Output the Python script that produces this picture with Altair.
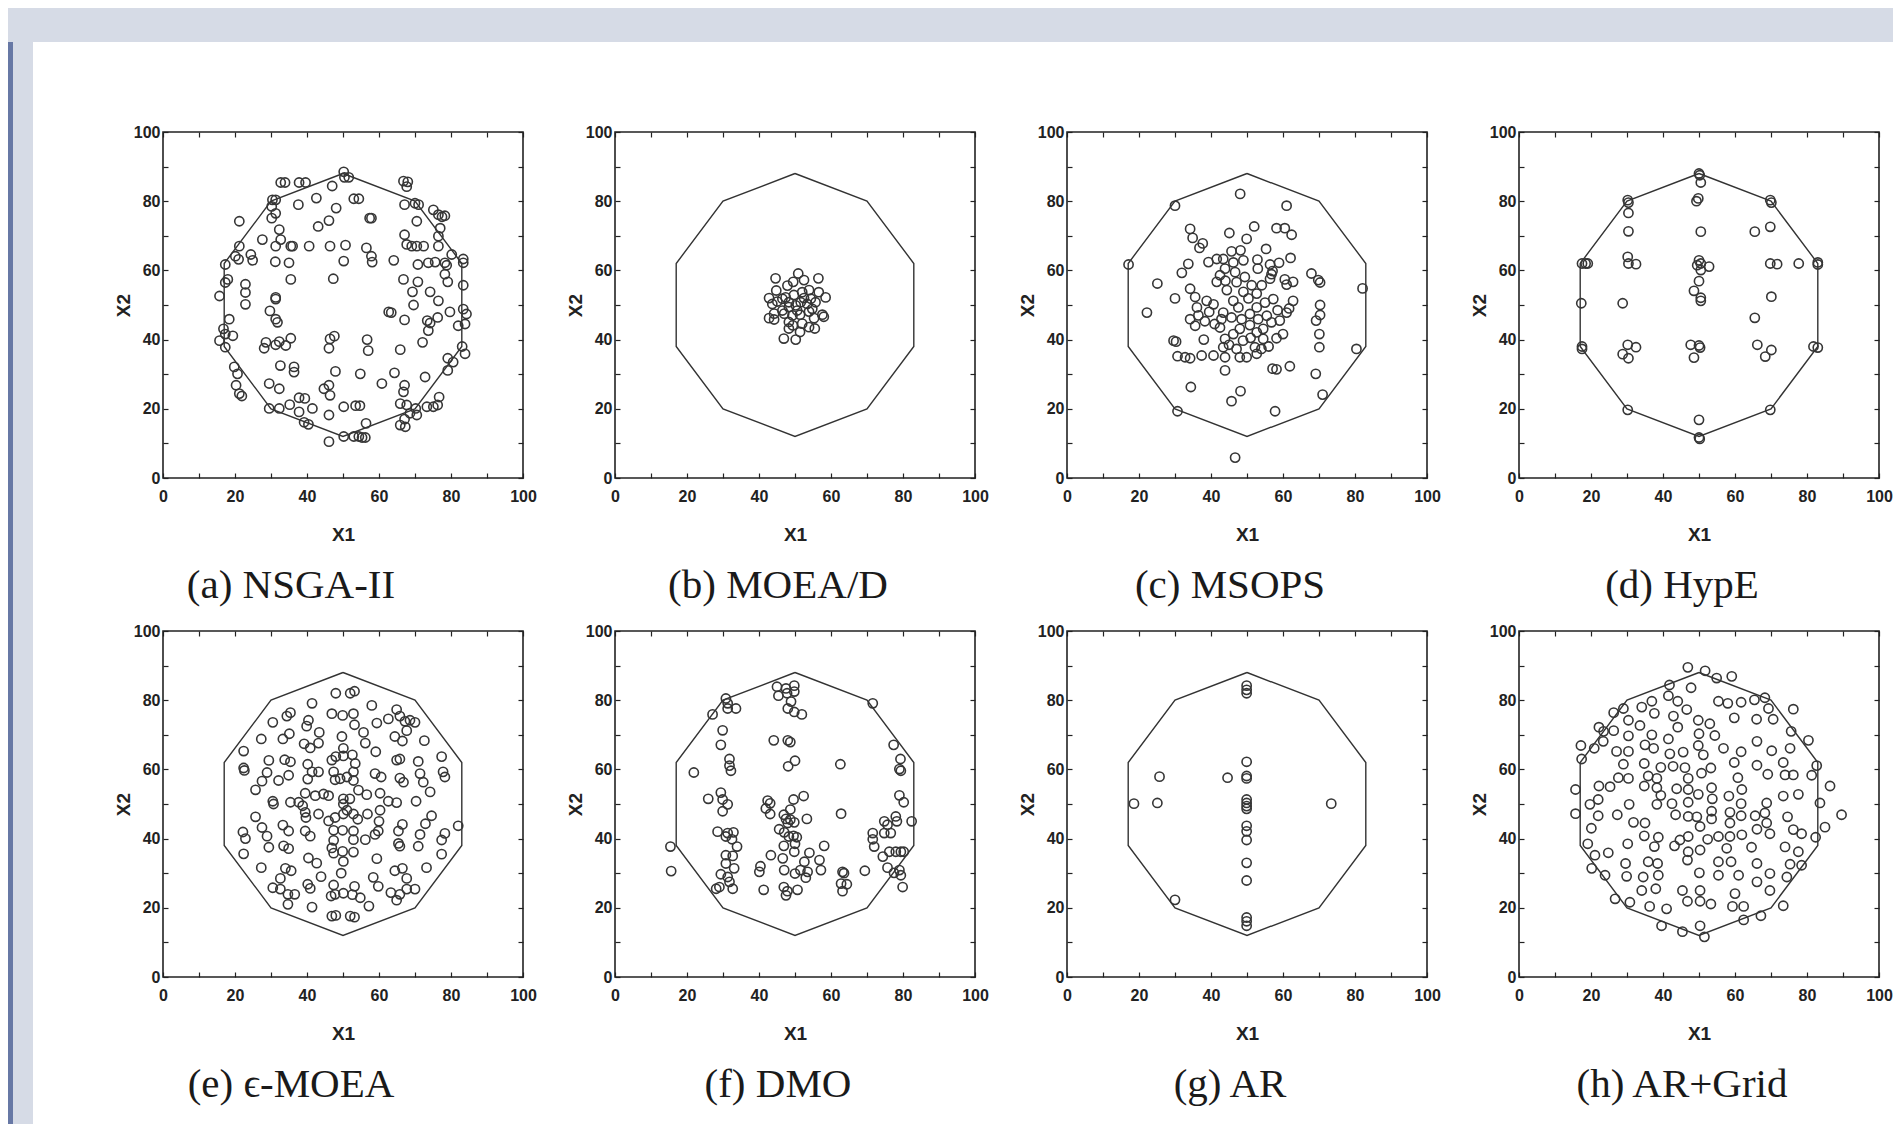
import altair as alt
import pandas as pd

# ---------------- data ----------------
POLY_X = [50, 70, 83, 83, 70, 50, 30, 17, 17, 30, 50]
POLY_Y = [88, 80, 62, 38, 20, 12, 20, 38, 62, 80, 88]

NSGA2 = [(50.2,88.5),(50.4,86.9),(51.6,86.9),(32.7,85.4),(33.9,85.4),(37.8,85.4),(39.6,85.4),(47.0,84.4),
(30.4,80.4),(31.3,80.4),(30.2,78.5),(37.6,79.0),(42.6,80.9),(53.0,80.7),(54.4,80.7),(48.1,78.0),
(46.1,74.4),(43.1,72.7),(57.4,75.1),(57.9,75.1),(66.8,85.8),(68.0,85.6),(67.7,84.2),(67.1,79.0),
(70.0,79.4),(71.0,79.0),(75.1,77.5),(76.5,76.1),(78.3,75.8),(77.5,75.5),(70.5,74.2),(77.0,72.2),
(21.2,74.2),(32.3,71.8),(32.7,68.9),(31.3,67.0),(27.6,68.9),(21.2,67.0),(21.0,63.2),(20.1,64.1),
(24.4,64.6),(24.9,62.9),(31.2,62.5),(35.0,62.2),(35.5,67.0),(36.0,67.0),(40.6,67.0),(46.4,67.0),
(50.7,67.3),(50.2,62.7),(56.5,66.5),(57.9,64.1),(58.1,62.4),(35.5,57.4),(47.3,57.6),(64.1,62.9),
(67.1,70.3),(67.7,67.5),(69.1,67.0),(70.5,67.0),(72.4,67.0),(70.8,61.7),(73.7,62.2),(75.6,62.4),
(78.3,62.2),(78.8,61.5),(80.2,64.6),(83.4,63.3),(83.4,62.2),(76.5,67.0),(76.5,69.9),(78.3,58.9),
(79.1,56.7),(83.4,55.7),(66.8,57.4),(70.8,56.7),(69.3,53.8),(69.6,50.0),(74.2,53.8),(76.5,51.2),
(62.7,48.0),(63.4,47.8),(67.1,45.7),(73.4,45.5),(74.2,44.8),(76.3,46.4),(73.7,42.6),(79.7,48.0),
(82.0,44.0),(83.4,48.8),(84.3,47.4),(83.9,44.5),(83.1,38.0),(83.9,35.9),(72.1,39.2),(79.1,34.6),
(80.6,33.5),(79.1,31.1),(72.8,29.2),(76.7,23.4),(76.3,21.1),(75.1,20.6),(73.3,20.6),(70.2,20.1),
(70.5,18.2),(65.9,37.1),(64.3,30.4),(60.8,27.3),(54.8,30.1),(47.9,30.8),(46.1,26.8),(44.7,25.8),
(46.4,23.9),(67.1,26.8),(66.8,24.9),(65.9,21.5),(67.7,21.1),(68.6,18.7),(65.9,15.3),(67.3,14.8),
(67.1,17.0),(56.4,15.8),(54.7,20.9),(53.5,20.9),(50.2,20.6),(50.2,12.0),(53.0,12.0),(54.4,12.0),
(55.3,11.7),(56.2,11.7),(46.1,10.5),(46.1,18.2),(41.5,20.1),(39.4,23.0),(37.8,23.2),(37.8,19.1),
(39.2,16.1),(40.4,15.5),(35.2,21.2),(32.3,20.1),(29.5,20.1),(29.5,27.3),(32.3,25.8),(32.6,32.5),
(36.4,32.1),(36.4,30.6),(28.6,39.2),(28.1,37.5),(31.3,38.5),(32.3,39.4),(34.1,38.3),(35.5,40.4),
(46.4,40.2),(47.6,41.0),(46.1,37.5),(56.7,40.0),(57.0,36.8),(29.7,48.3),(31.3,45.9),(31.8,45.0),
(31.3,52.2),(31.3,51.7),(22.9,56.0),(22.9,53.6),(22.9,50.2),(15.7,52.6),(17.3,56.5),(18.0,57.4),
(17.3,61.7),(18.4,45.9),(16.8,43.1),(17.3,41.6),(19.4,41.1),(15.7,39.7),(17.3,37.8),(19.8,32.1),
(20.7,30.1),(20.3,26.8),(21.2,24.4),(21.9,23.7),(30.2,75.1),(31.3,76.5)]

MOEAD = [(44.6,57.7),(50.9,59.1),(52.5,57.2),(56.5,57.7),(49.5,56.7),(47.9,55.6),(44.8,54.2),(42.8,52.0),
(43.7,50.3),(45.1,51.0),(47.4,52.2),(49.7,52.9),(52.0,53.7),(53.9,54.3),(56.6,53.7),(58.5,52.2),
(55.7,50.8),(53.4,50.3),(51.6,50.8),(50.2,49.9),(48.3,49.4),(46.5,48.4),(44.2,47.5),(42.8,46.2),
(44.2,45.8),(47.0,47.5),(49.3,47.0),(51.4,47.2),(53.9,48.1),(57.6,47.2),(55.3,46.2),(58.0,46.6),
(48.3,45.1),(52.0,44.6),(49.4,44.1),(48.3,43.2),(53.9,43.6),(55.5,43.2),(51.4,42.2),(46.9,40.3),
(50.2,40.0),(46.5,51.8),(48.3,50.8),(52.5,52.0),(54.4,51.8),(54.8,48.9),(50.6,48.4)]

MSOPS = [(48.1,82.1),(30.0,78.7),(61.0,78.7),(52.0,72.7),(34.2,72.0),(34.9,69.4),(37.7,67.8),(36.8,66.5),
(45.1,70.8),(49.9,69.1),(58.2,72.2),(60.5,72.2),(62.4,70.3),(55.3,66.2),(48.2,65.8),(45.7,65.5),
(43.4,63.3),(41.6,63.3),(39.3,62.4),(33.7,61.9),(31.9,59.3),(49.0,62.9),(52.9,63.1),(56.4,61.7),
(58.9,62.2),(62.1,63.6),(17.1,61.7),(25.1,56.2),(22.2,47.8),(30.0,51.9),(34.2,54.7),(35.6,52.3),
(36.1,49.3),(34.2,45.9),(35.6,44.0),(38.3,45.3),(41.0,44.5),(42.9,45.9),(42.5,43.5),(38.8,51.2),
(40.7,50.2),(42.5,58.6),(43.9,60.5),(46.2,62.3),(46.7,59.5),(41.6,56.7),(44.4,54.3),(47.1,56.6),
(49.4,58.1),(51.3,55.7),(49.0,53.8),(46.2,51.2),(47.6,49.3),(50.4,51.9),(52.7,53.3),(54.1,55.7),
(56.4,57.6),(56.8,58.9),(43.4,47.8),(45.7,46.4),(48.5,45.9),(50.8,47.4),(53.1,45.9),(55.5,46.9),
(52.7,49.3),(55.0,50.7),(57.3,51.7),(50.8,44.2),(48.0,43.1),(46.2,41.6),(43.9,40.2),(52.7,42.1),
(54.5,43.1),(56.8,45.0),(59.1,45.5),(54.5,40.2),(48.9,39.7),(47.1,37.3),(43.4,37.8),(52.2,37.8),
(54.0,37.3),(40.7,35.4),(43.9,34.9),(48.0,34.9),(49.9,34.9),(52.7,35.9),(37.4,35.4),(34.2,34.6),
(32.8,34.9),(30.7,35.2),(29.6,39.7),(30.3,39.4),(43.9,31.1),(57.1,31.6),(58.2,31.4),(61.9,32.3),
(58.2,40.4),(60.0,41.6),(61.0,47.8),(61.7,49.0),(62.8,51.2),(61.0,55.9),(62.8,56.7),(60.5,57.4),
(57.1,59.8),(67.9,59.1),(69.8,57.2),(70.3,56.5),(70.3,50.0),(70.3,47.1),(69.2,45.5),(70.1,41.6),
(70.1,37.8),(69.1,30.1),(71.0,24.1),(80.4,37.3),(82.1,54.8),(34.4,26.3),(45.7,22.2),(48.2,25.1),
(30.7,19.3),(57.8,19.3),(46.7,5.9),(39.5,48.0),(44.0,57.0),(53.0,60.5),(58.5,48.5),(36.5,47.0),
(45.0,38.5),(51.0,40.5),(56.0,38.0),(38.0,40.0)]

HYPE = [(50.0,88.0),(50.2,87.5),(50.5,85.4),(49.8,80.8),(49.3,80.0),(50.5,71.2),(30.2,80.3),(30.4,79.6),
(30.4,76.6),(30.4,71.3),(69.8,80.3),(70.1,79.6),(69.8,72.6),(65.5,71.2),(17.5,62.0),(18.5,62.0),
(19.1,62.0),(30.2,63.9),(30.4,62.0),(32.5,61.8),(50.0,62.9),(49.5,61.5),(50.5,62.0),(52.8,61.1),
(50.5,60.1),(50.0,56.9),(48.6,54.1),(50.5,52.1),(50.5,51.2),(69.8,62.0),(71.7,61.8),(77.7,62.0),
(83.0,62.3),(83.0,61.7),(17.3,50.5),(28.8,50.5),(70.1,52.4),(65.5,46.3),(17.5,38.0),(17.5,37.3),
(28.8,35.8),(30.2,38.5),(30.4,34.6),(32.5,37.8),(47.7,38.5),(48.6,34.8),(50.3,37.7),(50.0,38.3),
(66.2,38.5),(68.4,35.1),(70.1,37.0),(81.8,38.0),(83.0,37.7),(30.2,19.7),(69.8,19.7),(50.0,16.8),
(50.0,11.7),(50.2,11.3)]

EMOEA = [(48.0,82.0),(52.0,82.0),(53.2,82.6),(58.0,78.5),(41.4,79.1),(46.9,76.1),(49.9,75.6),(52.9,76.1),
(53.2,72.9),(35.4,76.4),(34.4,75.4),(30.5,73.6),(40.4,74.2),(39.9,72.5),(43.4,70.7),(43.2,67.6),
(49.7,69.5),(50.1,66.1),(59.4,73.4),(62.6,74.6),(64.9,77.3),(65.8,75.4),(67.2,73.9),(68.6,74.2),
(70.0,73.6),(67.7,71.2),(64.4,69.5),(66.5,68.2),(72.6,68.3),(55.7,70.7),(56.2,67.6),(59.1,65.1),
(27.3,68.8),(33.3,68.8),(35.1,70.3),(39.2,67.4),(40.9,66.2),(22.4,65.3),(22.4,60.4),(22.6,59.7),
(29.4,62.6),(28.9,59.1),(27.5,56.6),(25.7,54.1),(32.1,56.8),(33.8,62.8),(35.4,62.2),(34.9,58.3),
(30.5,50.8),(30.7,50.0),(35.4,50.5),(37.7,50.5),(38.8,49.5),(25.7,46.3),(27.5,43.2),(28.9,40.7),
(29.4,37.5),(22.2,41.9),(22.9,40.0),(22.4,35.6),(33.3,43.9),(34.9,42.2),(33.5,37.9),(34.9,37.1),
(27.3,31.6),(32.6,28.5),(34.0,31.4),(35.6,30.7),(30.5,25.8),(32.6,25.4),(34.7,23.9),(36.6,23.9),
(34.7,21.0),(40.2,61.5),(41.4,59.3),(40.2,57.2),(43.2,59.3),(39.5,53.1),(42.3,52.4),(44.6,52.9),
(46.0,52.4),(39.5,47.6),(39.7,46.1),(43.2,47.1),(46.9,62.7),(48.0,63.7),(50.1,63.9),(52.6,64.2),
(53.4,61.7),(47.4,59.3),(49.2,57.3),(51.1,57.8),(52.9,59.3),(52.9,56.8),(47.8,57.0),(54.3,54.0),
(50.1,51.5),(51.9,51.5),(50.1,50.0),(51.1,48.2),(46.0,45.1),(47.8,46.1),(50.1,47.1),(52.9,47.1),
(54.1,45.6),(47.4,42.4),(49.9,42.4),(52.9,42.2),(47.4,39.5),(52.9,39.7),(56.2,39.7),(46.9,37.3),
(47.4,35.8),(49.9,36.3),(52.9,36.1),(50.1,33.4),(56.6,52.7),(56.8,47.1),(60.3,53.1),(60.3,48.2),
(60.0,45.0),(59.8,42.2),(58.9,41.2),(62.6,50.8),(64.9,50.4),(58.9,58.8),(60.6,57.8),(64.9,62.7),
(65.8,63.0),(65.8,57.5),(66.8,56.3),(70.3,50.8),(66.5,44.1),(65.4,42.2),(65.8,37.8),(65.4,38.6),
(70.9,62.3),(71.4,58.8),(72.3,56.3),(74.2,53.5),(77.4,63.7),(77.8,59.3),(78.3,57.8),(74.6,46.6),
(72.9,44.3),(71.4,41.2),(70.9,37.8),(78.3,41.5),(77.4,39.6),(77.4,35.5),(82.0,43.7),(73.2,31.6),
(64.4,30.7),(66.5,31.4),(67.7,28.5),(70.0,25.4),(67.7,25.4),(63.3,24.4),(64.9,22.2),(65.8,23.9),
(58.4,28.8),(59.8,26.2),(57.2,20.5),(59.4,34.2),(54.8,22.9),(53.2,26.2),(52.6,23.8),(50.1,24.2),
(47.8,23.9),(46.7,23.4),(47.4,26.6),(49.5,30.0),(46.9,17.6),(48.0,17.8),(52.0,17.6),(53.2,17.3),
(41.4,20.2),(40.2,26.8),(40.9,25.6),(40.4,34.4),(42.7,32.9),(43.9,29.0),(39.5,42.2),(40.9,40.7)]

DMO = [(45.0,83.9),(45.4,81.3),(47.5,83.4),(47.8,82.0),(49.8,84.2),(49.8,82.5),(48.0,77.6),(48.9,79.6),
(49.8,76.6),(51.9,75.9),(30.8,80.5),(31.3,79.1),(31.3,77.6),(33.6,77.6),(27.1,75.9),(29.9,71.3),
(29.4,67.1),(44.1,68.4),(48.0,68.4),(48.7,67.9),(50.0,62.5),(48.1,60.9),(31.8,63.0),(31.8,61.1),
(32.2,59.6),(21.9,59.1),(71.6,79.1),(77.4,67.1),(79.3,63.0),(79.0,60.1),(79.4,59.6),(79.0,52.5),
(80.2,50.5),(62.6,61.5),(62.8,47.2),(25.9,51.5),(29.4,53.3),(29.9,51.3),(31.3,49.9),(29.9,47.9),
(42.4,51.0),(43.1,50.2),(41.9,48.7),(43.1,47.1),(49.6,51.3),(52.4,52.3),(48.7,48.4),(46.9,46.9),
(47.5,45.7),(48.7,45.5),(49.8,44.7),(48.0,44.5),(45.6,42.7),(47.0,41.8),(48.3,40.6),(49.6,40.8),
(50.5,40.4),(50.0,38.5),(46.9,37.9),(49.8,36.2),(53.3,45.7),(28.5,42.0),(30.8,40.6),(31.3,41.6),
(32.9,41.8),(32.5,39.8),(33.9,37.7),(30.8,35.2),(32.7,35.0),(30.8,32.8),(33.1,31.4),(29.4,29.7),
(31.3,28.9),(31.8,27.5),(28.1,25.5),(29.0,26.0),(32.7,25.5),(40.4,32.0),(40.1,30.4),(43.3,35.2),
(41.3,25.2),(46.6,34.3),(47.0,30.9),(46.9,26.0),(47.5,23.6),(47.9,24.8),(50.0,29.9),(51.5,30.9),
(50.7,25.2),(52.6,33.3),(53.0,28.7),(53.5,30.4),(54.0,35.9),(56.8,33.8),(57.2,30.9),(58.1,37.9),
(63.2,30.4),(63.6,30.0),(62.8,27.0),(63.2,24.8),(64.4,26.8),(69.4,30.7),(71.6,41.6),(71.6,39.8),
(72.0,37.7),(74.4,34.8),(74.8,45.0),(75.7,44.0),(74.8,41.6),(76.6,41.6),(78.0,46.4),(78.3,45.0),
(76.2,36.2),(78.0,36.2),(79.4,36.2),(80.2,36.2),(75.7,31.6),(77.5,30.1),(79.0,30.9),(79.4,29.4),
(79.9,26.0),(82.4,45.0),(15.4,37.7),(15.6,30.6)]

AR = [(49.9,84.2),(49.9,83.0),(49.9,82.0),(49.9,62.2),(49.9,58.1),(49.9,57.4),(49.9,51.3),(49.9,50.3),
(49.9,49.4),(49.9,48.6),(49.9,43.7),(49.9,42.1),(49.9,39.6),(49.9,33.0),(49.9,27.9),(49.9,17.2),
(49.9,16.1),(49.9,14.8),(44.6,57.6),(25.7,57.9),(18.6,50.1),(25.1,50.3),(73.4,50.1),(30.0,22.3)]

ARGRID = [(46.9,89.5),(51.7,88.5),(54.9,86.4),(59.1,86.9),(41.8,84.4),(47.8,83.6),(41.5,81.3),(44.1,79.7),
(46.6,77.3),(36.9,79.7),(34.1,78.0),(37.6,76.2),(29.0,77.6),(26.3,76.4),(55.4,79.7),(58.0,79.1),
(61.7,79.4),(65.4,80.1),(68.3,80.7),(69.3,77.6),(76.2,77.4),(70.6,74.5),(66.0,74.5),(59.8,74.9),
(49.8,74.2),(53.0,73.2),(54.4,69.8),(44.1,72.2),(42.9,75.4),(30.4,74.2),(33.6,72.7),(22.2,72.2),
(23.5,71.0),(26.3,71.2),(23.4,68.1),(20.9,66.1),(17.2,66.9),(17.4,63.0),(27.1,65.2),(30.4,65.2),
(30.4,69.7),(35.0,67.1),(36.9,70.0),(37.4,66.1),(29.0,61.5),(41.5,68.8),(41.9,64.5),(42.8,60.9),
(45.6,65.0),(46.1,60.5),(47.0,57.4),(47.0,54.2),(34.8,61.7),(35.9,58.1),(34.8,55.2),(27.6,57.6),
(30.4,57.4),(22.2,55.2),(25.3,55.0),(22.0,51.3),(19.7,49.9),(15.7,54.2),(15.7,47.2),(22.0,46.6),
(20.1,43.0),(27.3,46.9),(30.6,49.9),(31.8,44.7),(35.0,44.5),(39.4,60.6),(38.3,57.4),(38.3,54.7),
(39.4,52.5),(38.3,49.9),(42.5,50.1),(43.5,46.9),(43.8,54.4),(47.0,50.5),(49.8,52.8),(47.0,46.4),
(49.4,46.3),(50.3,43.5),(53.5,54.7),(53.7,51.5),(53.5,47.9),(53.5,45.7),(50.7,58.9),(51.2,64.2),
(49.8,66.9),(50.0,70.3),(53.3,60.4),(56.8,66.1),(59.8,62.0),(60.8,57.6),(61.9,54.2),(61.7,65.1),
(58.3,52.3),(58.6,47.6),(61.7,50.1),(61.7,46.6),(58.6,44.5),(65.6,46.6),(66.1,42.7),(68.8,50.3),
(68.3,47.4),(68.8,44.5),(69.7,41.4),(66.1,61.2),(69.1,58.6),(70.2,65.4),(66.1,68.1),(73.4,62.0),
(73.9,58.4),(73.4,52.3),(75.3,66.1),(75.6,71.0),(76.2,58.4),(77.6,52.8),(74.6,46.3),(76.2,42.6),
(78.5,41.4),(80.4,68.4),(82.7,61.1),(81.3,58.3),(86.4,55.2),(83.6,50.3),(85.0,43.3),(82.4,40.4),
(89.6,46.9),(73.9,37.6),(77.6,36.2),(75.3,32.6),(78.5,32.3),(74.4,28.9),(69.7,29.9),(69.7,25.0),
(73.4,20.6),(66.1,32.8),(66.1,27.5),(64.6,37.5),(61.9,41.1),(58.6,40.6),(58.9,33.3),(57.7,37.2),
(55.4,40.6),(55.4,33.3),(55.4,29.4),(52.4,39.8),(50.3,36.7),(47.0,40.6),(44.7,39.6),(43.2,37.9),
(47.0,36.2),(46.8,33.8),(61.0,29.4),(60.0,24.1),(59.3,20.4),(62.4,20.4),(62.4,16.5),(67.2,17.7),
(53.3,21.1),(50.3,21.9),(50.3,25.0),(50.1,30.1),(46.8,21.9),(45.4,25.0),(41.0,19.7),(36.3,20.4),
(39.6,14.8),(45.4,13.1),(50.3,14.8),(51.5,11.6),(38.0,25.5),(34.1,25.0),(34.5,28.9),(35.9,33.3),
(38.5,32.8),(38.7,29.4),(37.6,37.7),(38.7,40.4),(34.8,40.8),(30.2,38.5),(29.6,32.8),(29.9,29.1),
(24.8,35.9),(23.9,29.4),(20.2,31.4),(21.1,35.2),(19.1,38.5),(26.7,22.6),(30.8,21.6)]

CAPTIONS = ["(a) NSGA-II", "(b) MOEA/D", "(c) MSOPS", "(d) HypE",
            "(e) \u03f5-MOEA", "(f) DMO", "(g) AR", "(h) AR+Grid"]
SERIES = [NSGA2, MOEAD, MSOPS, HYPE, EMOEA, DMO, AR, ARGRID]
TICKS = list(range(0, 101, 10))

# ---------------- style ----------------
INK = "#222222"
PT = "#363636"
GRAYBG = "#d6dbe6"
BLUE = "#6778a5"
W, H = 360, 346
LW = 104          # width of the left decorative strip
EXT = 51          # left reach of the top band beyond the first plot's left edge
TOTAL_H = 1116
TOP_H = 34
TOPW = 1885 - LW - EXT

SC = alt.Scale(domain=[0, 100], nice=False, zero=False)
LBL = "datum.value % 20 === 0 ? datum.label : ''"


def axis(orient, title=None, labels=True, lpad=3, tpad=0):
    kw = dict(orient=orient, values=TICKS, tickSize=5, offset=-5, domain=False,
              grid=False, tickColor=INK, tickWidth=1.2)
    if labels:
        kw.update(labelExpr=LBL, labelFont="Liberation Sans", labelFontSize=16,
                  labelFontWeight="bold", labelColor=INK, labelPadding=lpad,
                  labelFlush=False, labelOverlap=False,
                  title=title, titleFont="Liberation Sans", titleFontSize=19,
                  titleFontWeight="bold", titleColor=INK, titlePadding=tpad)
    else:
        kw.update(labels=False, title=None)
    return alt.Axis(**kw)


poly_df = pd.DataFrame({"X1": POLY_X, "X2": POLY_Y, "o": list(range(len(POLY_X)))})


def panel(pts, caption, dx):
    pdf = pd.DataFrame(pts, columns=["X1", "X2"])
    line = alt.Chart(poly_df).mark_line(color="#333333", strokeWidth=1.4).encode(
        x=alt.X("X1:Q", scale=SC, axis=axis("bottom", "X1", lpad=10, tpad=21)),
        y=alt.Y("X2:Q", scale=SC, axis=axis("left", "X2", lpad=3, tpad=0)),
        order="o:Q",
    )
    dots = alt.Chart(pdf).mark_point(shape="circle", filled=False, size=85,
                                     strokeWidth=1.6, color=PT, opacity=1).encode(
        x=alt.X("X1:Q", scale=SC, axis=axis("top", labels=False)),
        y=alt.Y("X2:Q", scale=SC, axis=axis("right", labels=False)),
    )
    return alt.layer(line, dots).resolve_axis(x="independent", y="independent").properties(
        width=W, height=H,
        view=alt.ViewBackground(stroke=INK, strokeWidth=1.6, fill="white"),
        title=alt.TitleParams(caption, orient="bottom", anchor="middle",
                              font="Liberation Serif", fontSize=41, fontWeight="normal",
                              color="#1a1a1a", offset=22, dx=dx),
    )


panels = [panel(s, c, -52 if i % 4 == 0 else -17) for i, (s, c) in enumerate(zip(SERIES, CAPTIONS))]
row1 = alt.hconcat(*panels[:4], spacing=27)
row2 = alt.hconcat(*panels[4:], spacing=27)

dummy = pd.DataFrame({"k": [0]})
top_strip = alt.Chart(dummy).mark_rect(color=GRAYBG).encode(
    x=alt.value(-EXT), x2=alt.value(TOPW), y=alt.value(0), y2=alt.value(TOP_H)
).properties(width=TOPW, height=TOP_H, view=alt.ViewBackground(strokeWidth=0))

left_strip = alt.layer(
    alt.Chart(dummy).mark_rect(color=GRAYBG).encode(
        x=alt.value(0), x2=alt.value(25), y=alt.value(0), y2=alt.value(TOTAL_H)),
    alt.Chart(dummy).mark_rect(color=BLUE).encode(
        x=alt.value(0), x2=alt.value(5), y=alt.value(0), y2=alt.value(TOTAL_H)),
    alt.Chart(dummy).mark_rect(color=GRAYBG).encode(
        x=alt.value(0), x2=alt.value(LW), y=alt.value(0), y2=alt.value(TOP_H)),
).properties(width=LW, height=TOTAL_H, view=alt.ViewBackground(strokeWidth=0))

main = alt.vconcat(top_strip, alt.vconcat(row1, row2, spacing=15), spacing=81)

chart = alt.hconcat(left_strip, main, spacing=0).properties(
    padding=0, background="white"
).configure_view(strokeWidth=0)

chart.save("out.html", embed_options={"renderer": "svg", "actions": False})
